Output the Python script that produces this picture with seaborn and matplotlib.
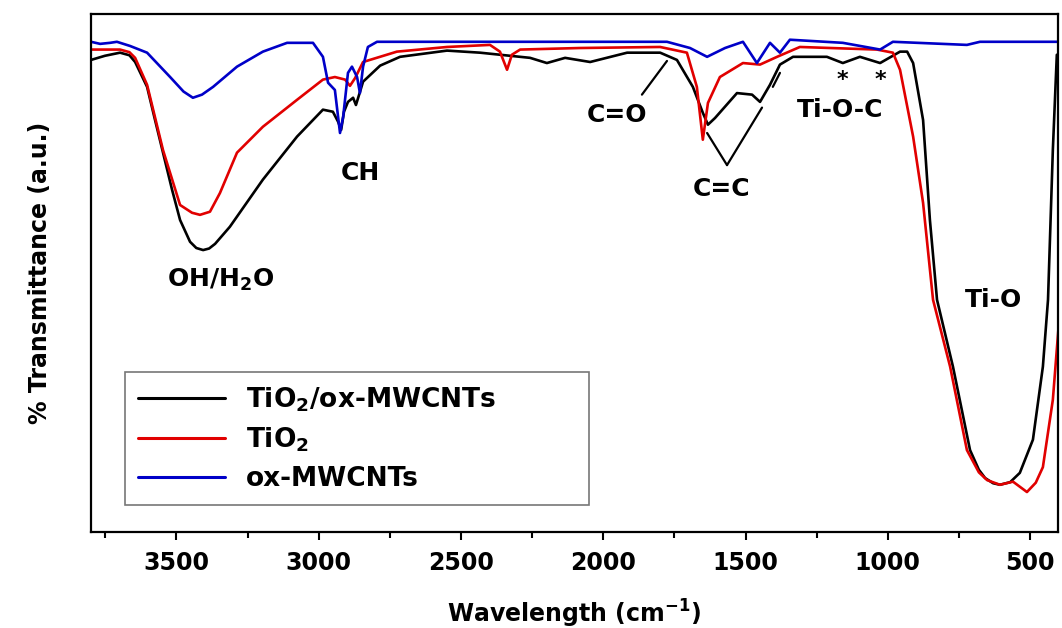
import numpy as np
import pandas as pd
import seaborn as sns
import matplotlib.pyplot as plt
from matplotlib.ticker import MultipleLocator

# Espectros FTIR (numero de onda em cm-1, transmitancia em u.a.)
wn_comp = [3800, 3751, 3698, 3665, 3645, 3603, 3575, 3547, 3515, 3487, 3452, 3430, 3406,
           3385, 3364, 3312, 3196, 3076, 2985, 2950, 2932, 2921, 2911, 2897, 2879, 2869,
           2855, 2844, 2784, 2714, 2549, 2433, 2257, 2198, 2134, 2046, 1916, 1800, 1741,
           1685, 1650, 1632, 1607, 1530, 1477, 1449, 1414, 1379, 1333, 1214, 1158, 1098,
           1027, 957, 932, 911, 876, 852, 827, 771, 711, 680, 658, 630, 606, 570, 536,
           490, 455, 437, 420, 406]
t_comp = [91.1, 91.9, 92.5, 92.0, 90.7, 85.9, 79.5, 73.2, 66.0, 60.2, 56.0, 54.8, 54.4,
          54.7, 55.6, 58.9, 68.0, 76.3, 81.5, 81.1, 79.2, 77.6, 81.1, 83.0, 83.8, 82.4,
          84.9, 86.9, 90.0, 91.7, 92.9, 92.5, 91.5, 90.5, 91.5, 90.7, 92.5, 92.5, 91.1,
          85.9, 80.9, 78.6, 79.9, 84.7, 84.4, 83.0, 86.3, 90.2, 91.7, 91.7, 90.5, 91.7,
          90.5, 92.7, 92.7, 90.5, 79.5, 60.2, 44.8, 31.9, 15.8, 12.0, 10.4, 9.4, 9.1,
          9.6, 11.4, 17.8, 31.9, 44.8, 73.7, 92.1]

wn_tio2 = [3800, 3698, 3665, 3645, 3603, 3547, 3487, 3445, 3417, 3382, 3347, 3287, 3196,
           3076, 2985, 2943, 2907, 2890, 2872, 2844, 2725, 2549, 2398, 2363, 2338, 2321,
           2292, 2082, 1800, 1706, 1671, 1650, 1632, 1590, 1509, 1449, 1389, 1309, 1038,
           982, 957, 911, 876, 841, 781, 722, 680, 651, 606, 560, 511, 480, 455, 420, 395]
t_tio2 = [93.1, 93.1, 92.6, 91.5, 86.3, 73.7, 63.1, 61.6, 61.2, 61.8, 65.4, 73.2, 78.2,
          83.4, 87.3, 87.8, 87.3, 86.1, 87.6, 90.7, 92.7, 93.6, 94.0, 92.7, 89.2, 92.1,
          93.1, 93.4, 93.6, 92.5, 85.9, 75.7, 82.8, 87.8, 90.5, 90.2, 91.7, 93.6, 93.1,
          92.5, 89.2, 76.3, 63.5, 44.8, 31.9, 15.8, 11.5, 10.0, 9.1, 9.7, 7.7, 9.5,
          12.5, 25.5, 42.9]

wn_cnt = [3800, 3768, 3733, 3709, 3663, 3603, 3522, 3475, 3442, 3410, 3371, 3287, 3196,
          3111, 3020, 2985, 2967, 2943, 2925, 2914, 2897, 2883, 2865, 2855, 2844, 2827,
          2795, 1776, 1695, 1635, 1572, 1509, 1460, 1414, 1379, 1344, 1158, 1027, 982,
          722, 676, 395]
t_cnt = [94.6, 94.2, 94.4, 94.6, 93.8, 92.5, 87.8, 85.0, 83.8, 84.4, 85.9, 89.8, 92.7,
         94.4, 94.4, 91.7, 86.7, 85.3, 77.0, 80.1, 88.6, 89.8, 87.8, 84.7, 89.8, 93.6,
         94.6, 94.6, 93.4, 91.7, 93.4, 94.6, 90.5, 94.4, 92.5, 95.0, 94.4, 93.1, 94.6,
         94.0, 94.6, 94.6]

amostras = ["TiO$_2$/ox-MWCNTs", "TiO$_2$", "ox-MWCNTs"]
cores = ["#000000", "#e10000", "#0000c8"]

dados = pd.concat([
    pd.DataFrame({"wn": wn_comp, "T": t_comp, "amostra": amostras[0]}),
    pd.DataFrame({"wn": wn_tio2, "T": t_tio2, "amostra": amostras[1]}),
    pd.DataFrame({"wn": wn_cnt, "T": t_cnt, "amostra": amostras[2]}),
], ignore_index=True)

sns.set_style("ticks", {"text.color": "black", "axes.labelcolor": "black",
                        "xtick.color": "black", "axes.edgecolor": "black"})
plt.rcParams["font.family"] = ["DejaVu Sans"]
plt.rcParams["font.weight"] = "bold"
plt.rcParams["mathtext.fontset"] = "dejavusans"
plt.rcParams["mathtext.default"] = "bf"

fig, ax = plt.subplots(figsize=(10.62, 6.28), dpi=100)
fig.subplots_adjust(left=0.0857, right=0.9962, bottom=0.153, top=0.978)

sns.lineplot(data=dados, x="wn", y="T", hue="amostra", hue_order=amostras,
             palette=cores, estimator=None, sort=True, linewidth=1.9, ax=ax)

ax.set_xlim(3800, 402)
ax.set_ylim(0, 100)
ax.set_yticks([])
ax.xaxis.set_major_locator(MultipleLocator(500))
ax.xaxis.set_minor_locator(MultipleLocator(250))
ax.tick_params(axis="x", which="major", direction="out", length=6, width=1.5,
               labelsize=17, pad=8)
ax.tick_params(axis="x", which="minor", direction="out", length=4, width=1.5)
for lab in ax.get_xticklabels():
    lab.set_fontweight("bold")
for sp in ax.spines.values():
    sp.set_visible(True)
    sp.set_linewidth(1.6)

ax.set_xlabel("Wavelength (cm$^{-1}$)", fontsize=17, fontweight="bold", labelpad=16)
ax.set_ylabel("% Transmittance (a.u.)", fontsize=17, fontweight="bold", labelpad=28)

leg = ax.legend(loc="lower left", bbox_to_anchor=(0.035, 0.052, 0.48, 0.26),
                mode="expand", fontsize=19, frameon=True, fancybox=False,
                handlelength=3.3, borderaxespad=0, labelspacing=0.45, borderpad=0.5)
leg.get_frame().set_edgecolor("#555555")
leg.get_frame().set_linewidth(1.2)
for txt in leg.get_texts():
    txt.set_fontweight("bold")
for ln in leg.get_lines():
    ln.set_linewidth(2.2)

# Rotulos das bandas
fs = 18
linha = dict(arrowstyle="-", lw=1.6, color="black", shrinkA=0, shrinkB=0)
ax.text(3346, 48.6, "OH/H$_2$O", fontsize=fs, fontweight="bold", ha="center", va="center")
ax.text(2855, 69.3, "CH", fontsize=fs, fontweight="bold", ha="center", va="center")
ax.text(630, 44.8, "Ti-O", fontsize=fs, fontweight="bold", ha="center", va="center")

ax.text(1952, 80.5, "C=O", fontsize=fs, fontweight="bold", ha="center", va="center")
ax.annotate("", xy=(1776, 90.9), xytext=(1864, 84.4), arrowprops=linha)

ax.text(1583, 66.2, "C=C", fontsize=fs, fontweight="bold", ha="center", va="center")
ax.annotate("", xy=(1635, 77.0), xytext=(1565, 70.8), arrowprops=linha)
ax.annotate("", xy=(1442, 81.9), xytext=(1565, 70.8), arrowprops=linha)

ax.text(1168, 81.5, "Ti-O-C", fontsize=fs, fontweight="bold", ha="center", va="center")
ax.annotate("", xy=(1379, 88.6), xytext=(1404, 85.9), arrowprops=linha)
for xs in (1161, 1027):
    ax.text(xs, 87.3, "*", fontsize=16, fontweight="bold", ha="center", va="center")

plt.savefig("out.png", dpi=100)
